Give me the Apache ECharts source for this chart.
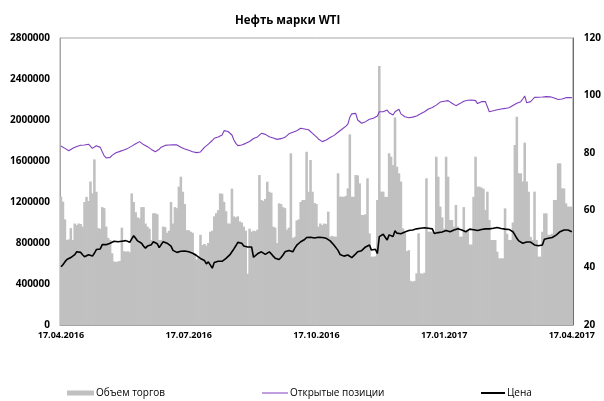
<!DOCTYPE html>
<html><head><meta charset="utf-8">
<script src="https://cdn.jsdelivr.net/npm/echarts@6/dist/echarts.min.js"></script>
<style>html,body{margin:0;padding:0;background:#fff}#c{width:604px;height:401px}</style>
</head><body><div id="c"></div>
<script>
const titleText = 'Нефть марки WTI';
const seriesNames = ['Объем торгов', 'Открытые позиции', 'Цена'];
const tickLabels = ['17.04.2016', '17.07.2016', '17.10.2016', '17.01.2017', '17.04.2017'];
const labelIdx = [0, 65, 130, 195, 260];
const tickIdx = [0, 87, 173, 260];

// trading days (weekdays) from 18.04.2016 to 17.04.2017
const dates = [];
for (let d = new Date(Date.UTC(2016, 3, 18)); dates.length < 261; d.setUTCDate(d.getUTCDate() + 1)) {
  const w = d.getUTCDay();
  if (w === 0 || w === 6) continue;
  dates.push(String(d.getUTCDate()).padStart(2, '0') + '.' + String(d.getUTCMonth() + 1).padStart(2, '0') + '.' + d.getUTCFullYear());
}

const volume = [
1252000,1203000,1030000,830000,835000,945000,830000,990000,975000,990000,
985000,960000,1200000,1250000,1210000,1400000,1285000,1616000,1300000,945000,
940000,1150000,1140000,960000,850000,830000,700000,620000,615000,620000,
625000,950000,720000,715000,720000,710000,1284000,1200000,1100000,1050000,
1040000,1150000,1150000,990000,960000,940000,830000,1090000,1090000,1080000,
830000,830000,960000,955000,900000,920000,1200000,990000,1150000,1140000,
1350000,1447000,1300000,1180000,925000,925000,910000,900000,700000,640000,
660000,880000,780000,790000,775000,800000,910000,920000,1060000,1090000,
1120000,1284000,1280000,1200000,1110000,990000,990000,1330000,1060000,1050000,
1060000,1010000,1000000,960000,920000,500000,940000,910000,920000,915000,
930000,1463000,1220000,1210000,1230000,1398000,1300000,1290000,960000,950000,
800000,1187000,1180000,1150000,1140000,930000,950000,1675000,850000,860000,
1020000,1030000,1200000,1220000,1220000,1690000,1300000,1610000,1300000,1190000,
1180000,960000,990000,975000,990000,985000,1106000,862000,870000,862000,
862000,1480000,1252000,1252000,1250000,1260000,1333000,1860000,1252000,1250000,
1463000,1460000,1382000,1073000,1073000,1080000,1431000,894000,667000,667000,
670000,1220000,2527000,1301000,1301000,1250000,1250000,1675000,1642000,1560000,
2026000,1544000,1480000,1400000,943000,900000,720000,730000,430000,423000,
430000,504000,894000,504000,500000,510000,1431000,910000,910000,910000,
910000,1642000,1447000,1155000,1050000,940000,1642000,1447000,1024000,1024000,
960000,1171000,960000,862000,862000,1150000,910000,920000,785000,785000,
1250000,1642000,1350000,1350000,1340000,1330000,1122000,1301000,1024000,829000,
829000,829000,715000,650000,650000,650000,1138000,890000,830000,830000,
1000000,1756000,2032000,1480000,1480000,1400000,1779000,1400000,1300000,860000,
830000,1301000,830000,667000,667000,910000,1089000,1089000,880000,880000,
890000,1220000,1220000,1577000,1577000,1333000,1333000,1187000,1155000,1155000,1155000
];

const openInterest = [
1746000,1735000,1723000,1708000,1700000,1713000,1725000,1735000,1742000,1748000,
1753000,1755000,1756000,1762000,1764000,1746000,1723000,1740000,1748000,1753000,
1733000,1690000,1650000,1630000,1626000,1635000,1655000,1670000,1681000,1688000,
1694000,1700000,1708000,1716000,1723000,1734000,1745000,1756000,1768000,1775000,
1789000,1772000,1760000,1753000,1740000,1728000,1713000,1698000,1691000,1691000,
1715000,1735000,1746000,1752000,1756000,1756000,1757000,1758000,1759000,1757000,
1756000,1735000,1723000,1718000,1712000,1705000,1698000,1691000,1686000,1682000,
1681000,1688000,1710000,1733000,1750000,1765000,1782000,1800000,1821000,1830000,
1834000,1822000,1854000,1896000,1893000,1888000,1870000,1854000,1805000,1772000,
1750000,1748000,1756000,1764000,1772000,1776000,1790000,1805000,1820000,1831000,
1835000,1840000,1870000,1886000,1860000,1843000,1837000,1840000,1825000,1818000,
1811000,1812000,1818000,1821000,1831000,1845000,1865000,1876000,1880000,1883000,
1895000,1908000,1919000,1902000,1912000,1919000,1905000,1890000,1870000,1854000,
1835000,1815000,1800000,1789000,1798000,1805000,1821000,1830000,1840000,1850000,
1862000,1880000,1896000,1910000,1919000,1940000,1960000,2026000,2060000,2071000,
2065000,2000000,1985000,1968000,1975000,1984000,2000000,2007000,2012000,2017000,
2025000,2039000,2081000,2081000,2081000,2090000,2097000,2071000,2060000,2049000,
2080000,2097000,2104000,2060000,2045000,2032000,2028000,2022000,2025000,2028000,
2032000,2040000,2049000,2060000,2070000,2081000,2095000,2108000,2115000,2122000,
2130000,2145000,2160000,2175000,2179000,2183000,2187000,2189000,2175000,2163000,
2150000,2140000,2137000,2160000,2175000,2183000,2189000,2192000,2195000,2195000,
2192000,2189000,2160000,2146000,2179000,2179000,2179000,2130000,2081000,2085000,
2090000,2095000,2100000,2104000,2108000,2113000,2113000,2108000,2120000,2130000,
2142000,2152000,2163000,2170000,2179000,2205000,2234000,2169000,2172000,2179000,
2200000,2221000,2221000,2222000,2222000,2224000,2226000,2228000,2228000,2226000,
2220000,2214000,2208000,2200000,2195000,2205000,2218000,2218000,2218000,2218000,2218000
];

const price = [
40.3,41,42,42.8,43,43.5,43.5,44.5,45.5,45.7,
45.3,44.5,43.8,44,44.5,45,44,45,46.3,46.3,
46.5,48,48.3,48,47.8,48.5,49,49.2,49,49,
49,49.2,49.3,49.4,49,48.8,50,51.1,50.2,49.3,
49,48.5,47.5,46.8,47.5,47.9,48,49,49.5,48.3,
47,48,49,48.8,48.5,48.6,47.5,46,45.5,45.3,
45.3,45.7,46,45.8,45.6,45.5,45.4,45,44.8,44.2,
43.8,43.2,42.8,42.5,41.3,42,41.5,39.8,41.8,42,
42.2,42.6,42.2,42.8,43.2,43.8,44.5,45.5,46.5,47.6,
48.8,48.6,48.5,47.5,47,47.2,47.8,47.2,43.6,44.2,
44.8,45.2,45.5,45.2,44.6,45.2,45.5,44.8,44,43.3,
42.8,42.8,43.5,44.4,45.5,45.5,46,46.2,45.5,46.8,
47.8,48.3,49,49.2,49.8,50.5,50.8,50.6,50.4,50.3,
50.4,50.6,50.8,50.5,50.6,50.2,49.9,49.3,48.8,47.8,
47.2,46,44.6,44.2,44,44.1,44.4,44.6,43.5,43.2,
44.8,45.5,45.6,45.9,46.4,47.2,47.7,47.9,46.1,46.2,
46.4,44.9,50.8,51.3,51.6,50.6,49.6,51.4,51,50.8,
52.8,52,51.4,51.8,52.2,52.4,52.5,52.9,53.1,53.1,
53.3,53.5,53.6,53.7,53.7,53.9,54,53.7,53.6,53.5,
51.9,51.7,52.2,52.5,52.4,52.2,52.9,52.7,52.5,52.8,
53.1,53.3,53.5,53.3,53.1,53.1,52.5,52.9,53.4,53.3,
53.2,52.9,52.9,53.1,53.3,53.4,53.5,53.5,53.5,53.6,
53.7,53.8,54,53.8,53.6,53.5,53.4,53.4,53.3,53.1,
52.5,51.4,50.2,49.3,48.9,48.5,48.5,48.9,48.9,48.9,
48.3,47.9,47.6,47.6,47.7,47.9,49.9,50.1,50.2,50.4,
50.5,50.8,51.3,51.9,52.5,53,53.1,53.2,53.1,52.8,52.5
];

const FONT = 'Open Sans';
const chart = echarts.init(document.getElementById('c'), null, {renderer: 'canvas'});
const legendText = {fontFamily: FONT, fontSize: 10, color: '#000', padding: [0, 0, 0, -3]};
chart.setOption({
  animation: false,
  backgroundColor: '#fff',
  title: {text: titleText, left: 230, top: 10, textStyle: {fontFamily: FONT, fontSize: 11.5, fontWeight: 'bold', color: '#000'}},
  grid: {left: 60, right: 28, top: 38, bottom: 76, show: true, borderColor: '#a6a6a6', borderWidth: 1, containLabel: false},
  legend: [
    {data: [seriesNames[0]], left: 62, top: 383, icon: 'rect', itemWidth: 27, itemHeight: 5, textStyle: legendText},
    {data: [seriesNames[1]], left: 257, top: 383, icon: 'rect', itemWidth: 26, itemHeight: 1, textStyle: legendText},
    {data: [seriesNames[2]], left: 476, top: 383, icon: 'rect', itemWidth: 24, itemHeight: 2, textStyle: legendText}
  ],
  xAxis: {
    type: 'category', data: dates, boundaryGap: true,
    axisLine: {lineStyle: {color: '#a6a6a6', width: 1}},
    axisTick: {alignWithLabel: true, length: 3, lineStyle: {color: '#a6a6a6'}, interval: (i) => tickIdx.includes(i)},
    axisLabel: {interval: (i) => labelIdx.includes(i), formatter: (v, i) => tickLabels[labelIdx.indexOf(i)] || '',
      fontFamily: FONT, fontSize: 9, fontWeight: 'bold', color: '#000', margin: 6, showMinLabel: true, showMaxLabel: true},
    splitLine: {show: false}
  },
  yAxis: [
    {type: 'value', min: 0, max: 2800000, interval: 400000,
     axisLine: {show: true, lineStyle: {color: '#a6a6a6'}}, axisTick: {show: false},
     axisLabel: {formatter: (v) => String(v), fontFamily: FONT, fontSize: 10, fontWeight: 'bold', color: '#000', margin: 10},
     splitLine: {show: false}},
    {type: 'value', min: 20, max: 120, interval: 20, position: 'right',
     axisLine: {show: true, lineStyle: {color: '#8a4fc8'}}, axisTick: {show: false},
     axisLabel: {formatter: (v) => String(v), fontFamily: FONT, fontSize: 10, fontWeight: 'bold', color: '#000', margin: 11},
     splitLine: {show: false}}
  ],
  series: [
    {name: seriesNames[0], type: 'bar', data: volume, barWidth: '130%', itemStyle: {color: '#c0c0c0'}, yAxisIndex: 0, z: 1},
    {name: seriesNames[1], type: 'line', data: openInterest, yAxisIndex: 0, symbol: 'none', lineStyle: {color: '#7f3fbf', width: 1.1}, itemStyle: {color: '#7f3fbf'}, z: 3},
    {name: seriesNames[2], type: 'line', data: price, yAxisIndex: 1, symbol: 'none', lineStyle: {color: '#000', width: 1.6}, itemStyle: {color: '#000'}, z: 4}
  ]
});
</script></body></html>
